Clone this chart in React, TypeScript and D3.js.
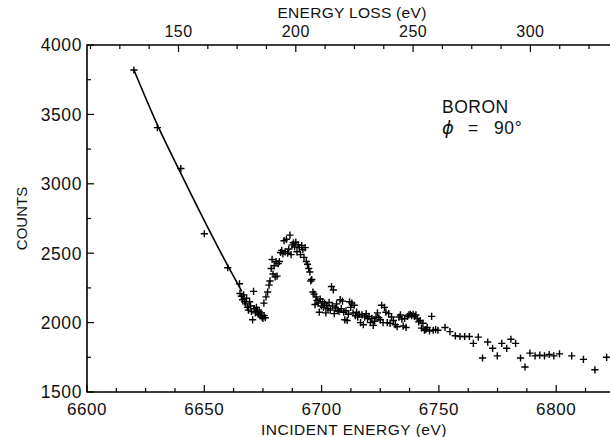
import React from 'react'
import * as d3 from 'd3'

// incident energy (eV) and counts
const energies = [
  6620, 6630, 6640, 6650, 6660,
  6665.0, 6665.2, 6665.8, 6666.3, 6666.8, 6667.2, 6667.6, 6668.0, 6668.4, 6668.8,
  6669.3, 6669.7, 6670.1, 6670.6, 6671.0, 6671.3, 6671.8, 6672.2, 6672.6, 6673.0,
  6673.4, 6673.8, 6674.2, 6674.6, 6675.0, 6675.5, 6676.0,
  6675.4, 6676.3, 6677.0, 6677.6, 6678.0, 6678.5, 6678.9, 6679.3, 6679.8, 6680.2,
  6680.6, 6681.0, 6681.5, 6682.0, 6682.5, 6683.0, 6683.5, 6684.0, 6684.5, 6685.0,
  6685.5, 6686.0, 6686.5, 6687.0, 6687.5, 6688.0, 6688.5, 6689.0, 6689.5, 6690.0,
  6690.5, 6691.0, 6691.5, 6692.0, 6692.5, 6693.0, 6693.5, 6694.0, 6694.5, 6695.0,
  6695.4, 6695.8, 6696.3, 6696.8, 6697.2, 6697.6, 6698.0, 6698.5, 6699.0, 6699.4,
  6699.9, 6700.4, 6700.8, 6701.3, 6701.8, 6702.2, 6702.7, 6703.2, 6703.7, 6704.2,
  6704.6, 6705.0, 6705.4, 6705.9, 6706.4, 6706.9, 6707.4, 6707.9, 6708.4, 6708.9,
  6709.4, 6709.9, 6710.4, 6710.9, 6711.4, 6711.9, 6712.4, 6712.9, 6713.4, 6713.9,
  6714.4, 6714.9, 6715.4, 6716.0, 6716.6, 6717.2, 6717.8, 6718.4, 6719.0, 6719.6,
  6720.2, 6720.8, 6721.4, 6722.0, 6722.6, 6723.2, 6723.8, 6724.4, 6725.0, 6725.6,
  6726.2, 6726.8, 6727.4, 6728.0, 6728.6, 6729.2, 6729.8, 6730.6, 6731.4, 6732.2,
  6733.0, 6733.6, 6734.2, 6734.8, 6735.4, 6736.0, 6736.6, 6737.2, 6737.8, 6738.4,
  6739.0, 6739.6, 6740.2, 6740.8, 6741.4, 6742.0, 6742.6, 6743.2, 6743.8, 6744.4,
  6745.0, 6746.0, 6746.9, 6747.6, 6748.6, 6749.6, 6752.6, 6754.7, 6757.0, 6759.0,
  6761.0, 6763.0, 6764.7, 6766.8, 6768.6, 6770.8, 6772.9, 6774.9, 6776.8, 6778.9,
  6780.7, 6782.7, 6784.8, 6786.7, 6788.8, 6791.0, 6793.0, 6795.0, 6797.0, 6799.0,
  6801.4, 6806.6, 6811.6, 6816.5, 6821.5,
]
const counts = [
  3820, 3405, 3110, 2640, 2395,
  2280, 2210, 2190, 2165, 2200, 2150, 2135, 2175, 2110, 2090,
  2150, 2120, 2080, 2020, 2225, 2100, 2070, 2110, 2090, 2060,
  2080, 2050, 2070, 2040, 2030, 2050, 2035,
  2140, 2185, 2220, 2270, 2300, 2390, 2455, 2350, 2410, 2330,
  2440, 2335, 2425, 2440, 2505, 2520, 2495, 2590, 2510, 2600,
  2500, 2530, 2630, 2490, 2560, 2575, 2545, 2580, 2510, 2560,
  2540, 2490, 2555, 2525, 2470, 2540, 2440, 2420, 2390, 2365,
  2300, 2310, 2220, 2205, 2130, 2185, 2160, 2140, 2075, 2170,
  2120, 2150, 2110, 2140, 2070, 2125, 2100, 2145, 2090, 2260,
  2120, 2235, 2065, 2105, 2135, 2090, 2080, 2165, 2100, 2155,
  2075, 2020, 2085, 2015, 2060, 2150, 2110, 2140, 2070, 2125,
  2050, 2075, 2040, 2060, 2000, 2055, 1985, 2040, 2065, 2030,
  2045, 2000, 2030, 1980, 2010, 2040, 2070, 2035, 2020, 2125,
  2000, 2110, 2075, 2000, 2065, 1995, 2040, 2015, 1985, 1970,
  2040, 2055, 2025, 1975, 2030, 1965, 2045, 2055, 2060, 2050,
  2060, 2045, 2055, 2030, 2005, 2015, 1960, 1995, 1945, 1950,
  1965, 1940, 2045, 1945, 1950, 1945, 1965, 1935, 1905, 1900,
  1900, 1900, 1850, 1895, 1745, 1860, 1815, 1760, 1850, 1815,
  1880, 1850, 1745, 1680, 1780, 1760, 1765, 1760, 1770, 1760,
  1775, 1760, 1735, 1660, 1750,
]

// background fit drawn as a line
const fitEnergies = [6620, 6630, 6640, 6650, 6660, 6666]
const fitCounts = [3820, 3425, 3075, 2735, 2410, 2225]

const yTicks = [1500, 2000, 2500, 3000, 3500, 4000]
const xTicks = [6600, 6650, 6700, 6750, 6800]
const lossTicks = [150, 200, 250, 300]
const lossOffset = 6489

const font = '"Liberation Sans", Arial, sans-serif'

export default function App() {
  const w = 610, h = 437
  const left = 87, top = 45, bottom = 392
  const x = d3.scaleLinear().domain([6600, 6825]).range([left, left + 225 * 2.346])
  const y = d3.scaleLinear().domain([1500, 4000]).range([bottom, top])
  const right = x(6825)

  const line = d3.line<number>()
    .x((d, i) => x(fitEnergies[i]))
    .y(d => y(d))
    .curve(d3.curveMonotoneX)

  const xMinor = d3.range(6600, 6826, 12.5)
  const lossMinor = d3.range(112.5, 340, 12.5)
  const yMinor = d3.range(1500, 4001, 250)

  return (
    <svg width={w} height={h} style={{ position: 'absolute', left: 0, top: 0, background: '#fff' }}
      fontFamily={font}>
      <rect width={w} height={h} fill="#fff" />

      {/* frame */}
      <path d={`M${right},${top}H${left}V${bottom}H${right}`} fill="none" stroke="#000" strokeWidth={1.6} />

      {/* left axis */}
      {yMinor.map(v => (
        <line key={'ym' + v} x1={left} x2={left + (v % 500 === 0 ? 7 : 4)} y1={y(v)} y2={y(v)}
          stroke="#000" strokeWidth={1.2} />
      ))}
      {yTicks.map(v => (
        <text key={'yt' + v} x={left - 5} y={y(v)} dy="0.36em" textAnchor="end" fontSize={17.5}
          letterSpacing={0.6} fill="#111">{v}</text>
      ))}
      <text transform={`translate(22,${(top + bottom) / 2}) rotate(-90)`} textAnchor="middle"
        dy="0.36em" fontSize={15} fill="#111">COUNTS</text>

      {/* bottom axis */}
      {xMinor.map(v => (
        <line key={'xm' + v} x1={x(v)} x2={x(v)} y1={bottom} y2={bottom - (v % 50 === 0 ? 7 : 4)}
          stroke="#000" strokeWidth={1.2} />
      ))}
      {xTicks.map(v => (
        <text key={'xt' + v} x={x(v)} y={415} textAnchor="middle" fontSize={17}
          letterSpacing={0.6} fill="#111">{v}</text>
      ))}
      <text x={354} y={435} textAnchor="middle" fontSize={15.5} letterSpacing={0.5} fill="#111">
        INCIDENT ENERGY (eV)
      </text>

      {/* top axis: energy loss */}
      {lossMinor.map(v => (
        <line key={'lm' + v} x1={x(v + lossOffset)} x2={x(v + lossOffset)} y1={top}
          y2={top + (v % 50 === 0 ? 7 : 4)} stroke="#000" strokeWidth={1.2} />
      ))}
      {lossTicks.map(v => (
        <text key={'lt' + v} x={x(v + lossOffset)} y={37} textAnchor="middle" fontSize={16}
          letterSpacing={0.5} fill="#111">{v}</text>
      ))}
      <text x={352} y={18} textAnchor="middle" fontSize={15.5} letterSpacing={0.3} fill="#111">
        ENERGY LOSS (eV)
      </text>

      {/* fit line */}
      <path d={line(fitCounts) || ''} fill="none" stroke="#000" strokeWidth={1.6} />

      {/* data points */}
      {energies.map((e, i) => {
        const cx = x(e), cy = y(counts[i]), r = 3.6
        return (
          <path key={'p' + i} d={`M${cx - r},${cy}H${cx + r}M${cx},${cy - r}V${cy + r}`}
            stroke="#000" strokeWidth={1.4} />
        )
      })}

      {/* label */}
      <text x={442} y={113} fontSize={17.5} letterSpacing={0.5} fill="#111">BORON</text>
      <text x={442} y={134} fontSize={18} fill="#111" fontFamily='"DejaVu Sans", sans-serif'
        fontStyle="italic">ϕ</text>
      <text x={468} y={134} fontSize={17.5} fill="#111">=</text>
      <text x={494} y={134} fontSize={17.5} letterSpacing={0.6} fill="#111">90°</text>
    </svg>
  )
}
